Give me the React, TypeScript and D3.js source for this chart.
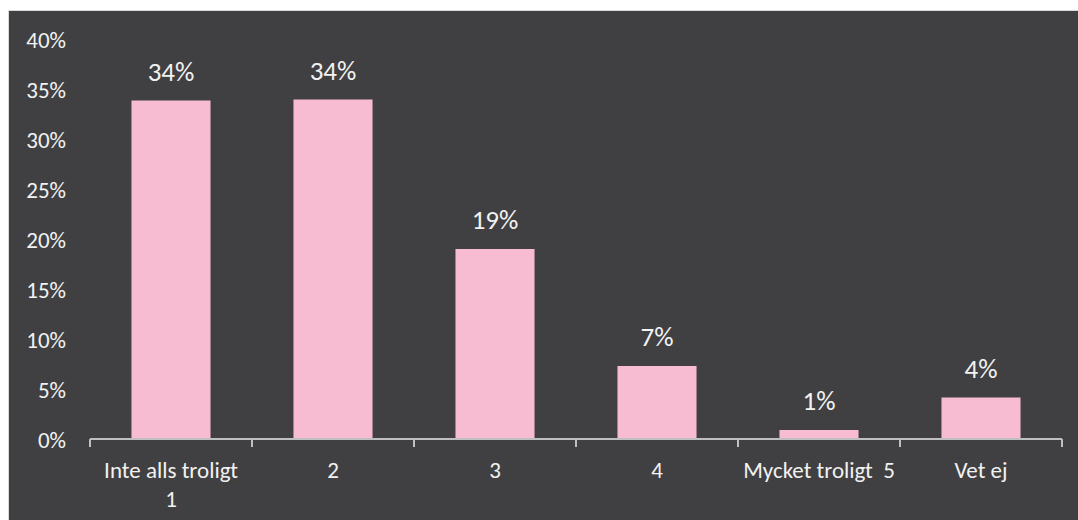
import React from "react";
import * as d3 from "d3";

const categories = ["Inte alls troligt 1", "2", "3", "4", "Mycket troligt  5", "Vet ej"];
const categoryLines = [["Inte alls troligt", "1"], ["2"], ["3"], ["4"], ["Mycket troligt\u00a0\u00a05"], ["Vet ej"]];
const values = [33.9, 34.0, 19.05, 7.35, 0.95, 4.2];
const valueLabels = ["34%", "34%", "19%", "7%", "1%", "4%"];
const yTicks = [0, 5, 10, 15, 20, 25, 30, 35, 40];

const W = 1078;
const H = 520;
const FONT = "Carlito, Lato, 'Open Sans', sans-serif";
const TEXT = "#f2f2f2";

export default function App() {
  const x = d3.scaleBand<string>().domain(categories).range([90, 1062]).paddingInner(0.512).paddingOuter(0.256);
  const y = d3.scaleLinear().domain([0, 40]).range([439.5, 39.5]);
  const step = x.step();
  const edges = d3.range(categories.length + 1).map((i) => 90 + i * step);

  return (
    <svg width={W} height={H} style={{ position: "absolute", left: 0, top: 0 }} fontFamily={FONT}>
      <rect x={0} y={0} width={W} height={H} fill="#ffffff" />
      <rect x={8.5} y={10.5} width={W} height={H} fill="#404042" stroke="#d9d9d9" strokeWidth={1} />
      {yTicks.map((t) => (
        <text key={t} x={66} y={y(t) + 8} textAnchor="end" fill={TEXT} fontSize={23}>
          {t}%
        </text>
      ))}
      {categories.map((c, i) => (
        <rect key={c} x={x(c)} y={y(values[i])} width={x.bandwidth()} height={y(0) - y(values[i]) - 1} fill="#f7bcd1" />
      ))}
      {categories.map((c, i) => (
        <text key={"v" + c} x={(x(c) as number) + x.bandwidth() / 2} y={y(values[i]) - 20} textAnchor="middle" fill={TEXT} fontSize={27}>
          {valueLabels[i]}
        </text>
      ))}
      <line x1={90} x2={1062} y1={439} y2={439} stroke="#bfbfbf" strokeWidth={2} />
      {edges.map((e, i) => (
        <line key={"t" + i} x1={e} x2={e} y1={439} y2={447} stroke="#bfbfbf" strokeWidth={2} />
      ))}
      {categories.map((c, i) =>
        categoryLines[i].map((ln, j) => (
          <text key={"c" + i + j} x={(x(c) as number) + x.bandwidth() / 2} y={478 + j * 29} textAnchor="middle" fill={TEXT} fontSize={23}>
            {ln}
          </text>
        ))
      )}
    </svg>
  );
}
